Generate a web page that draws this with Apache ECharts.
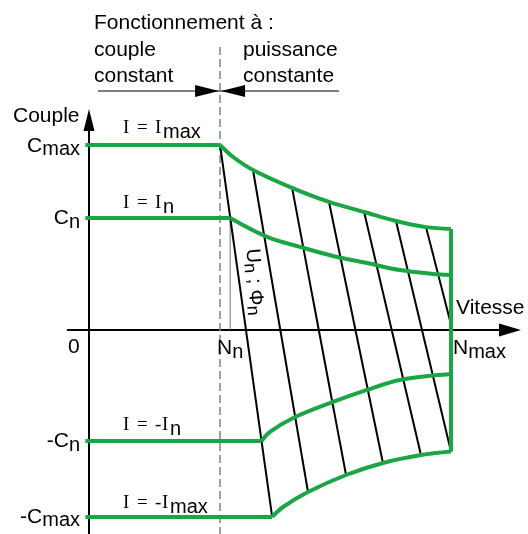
<!DOCTYPE html>
<html><head><meta charset="utf-8">
<script src="https://cdn.jsdelivr.net/npm/echarts@6/dist/echarts.min.js"></script>
<style>html,body{margin:0;padding:0;background:#fff}#c{width:528px;height:534px}</style>
</head><body><div id="c"></div>
<script>
// ---- data (speed N: Nmax = 100, torque C: Cmax = 100) ----
const Nn = 36.2;          // base speed (dashed line)
const NnCross = 39.0;     // Cn meets the Un;Phin line
const Nmax = 100;
const Cmax = 100, Cn = 60.5, mCn = -60, mCmax = -101.1;
const NmCn = 47.7, NmCmax = 50.6;

const cmaxCurve  = [[36.2,100],[39.8,93.5],[45.3,86.5],[56.1,76.8],[66.3,69.2],[76.0,63.8],[84.8,58.9],[93.1,55.6],[100,54.6]];
const cnCurve    = [[39.0,60.5],[49.2,50.3],[58.3,44.9],[67.4,40.0],[76.8,36.2],[85.9,32.4],[95.0,30.3],[100,29.7]];
const mCnCurve   = [[47.7,-60],[50.0,-55.1],[56.4,-47.6],[67.4,-38.9],[76.8,-32.4],[85.9,-27.0],[100,-23.8]];
const mCmaxCurve = [[50.6,-101.1],[53.6,-95.7],[60.5,-87.6],[71.0,-78.4],[81.2,-71.9],[91.7,-67.6],[100,-65.7]];
const hatchLines = [
  [[36.2,100],[50.6,-101.1]],
  [[45.3,86.5],[60.5,-87.6]],
  [[56.1,76.8],[71.0,-78.4]],
  [[66.3,69.2],[81.2,-71.9]],
  [[76.0,63.8],[91.7,-67.6]],
  [[84.8,58.9],[100,-65.7]],
  [[93.1,55.6],[100,3]]
];
const flatLines = [
  [[-1,Cmax],[Nn,Cmax]],
  [[-1,Cn],[NnCross,Cn]],
  [[-1,mCn],[NmCn,mCn]],
  [[-1,mCmax],[NmCmax,mCmax]]
];
const rightEdge = [[Nmax,54.6],[Nmax,-65.7]];

// ---- layout ----
const X0=89, Y0=330, KX=3.62, KY=1.85;
const xMin=-5.9, xMax=116.3, yMin=-110.3, yMax=113.5;
const GREEN='#1aa644';
const SANS='"Liberation Sans", Arial, Helvetica, sans-serif';
const SERIF='"Liberation Serif", "Times New Roman", serif';

const chart = echarts.init(document.getElementById('c'));
const base = {type:'line', symbol:'none', silent:true, animation:false, clip:false};
const series = [];
hatchLines.forEach(d=>series.push(Object.assign({}, base, {data:d, z:3, lineStyle:{color:'#000', width:2}})));
flatLines.forEach(d=>series.push(Object.assign({}, base, {data:d, z:5, lineStyle:{color:GREEN, width:4, cap:'butt'}})));
[cmaxCurve, cnCurve, mCnCurve, mCmaxCurve].forEach(d=>series.push(Object.assign({}, base, {data:d, smooth:0.35, z:5, lineStyle:{color:GREEN, width:4}})));
series.push(Object.assign({}, base, {data:rightEdge, z:5, lineStyle:{color:GREEN, width:4}}));
series.push(Object.assign({}, base, {data:[[NnCross,0],[NnCross,Cn]], z:2, lineStyle:{color:'#777', width:1}}));

const axisCommon = {type:'value', axisTick:{show:false}, axisLabel:{show:false}, splitLine:{show:false}};
chart.setOption({
  animation:false,
  grid:{left:X0+xMin*KX, width:(xMax-xMin)*KX, top:Y0-yMax*KY, height:(yMax-yMin)*KY, containLabel:false},
  xAxis:Object.assign({min:xMin, max:xMax, axisLine:{onZero:true, symbol:['none','triangle'], symbolSize:[13,22], lineStyle:{color:'#000', width:2}}}, axisCommon),
  yAxis:Object.assign({min:yMin, max:yMax, axisLine:{onZero:true, symbol:['none','triangle'], symbolSize:[11,22], lineStyle:{color:'#000', width:2}}}, axisCommon),
  series
});

// ---- annotations ----
const cv = document.createElement('canvas').getContext('2d');
function W(s,size,fam){cv.font=size+'px '+fam; return cv.measureText(s).width;}
function T(x, baseLine, s, size, fam){
  return {type:'text', x:x, y:baseLine-0.3465*size, silent:true, z:100,
    style:{text:s, font:size+'px '+fam, fill:'#000', verticalAlign:'middle', align:'left'}};
}
function P(n,c){return chart.convertToPixel({gridIndex:0},[n,c]);}
function subLabel(x, b, main, sub, alignRight){
  const wm=W(main,21,SANS), ws=W(sub,20,SANS);
  const x0 = alignRight ? x-(wm+ws) : x;
  return [T(x0,b,main,21,SANS), T(x0+wm,b+3.5,sub,20,SANS)];
}
function iLabel(x, b, neg, sub){
  const els=[T(x,b,'I',19,SERIF), T(x+14,b,'=',19,SERIF)];
  let xi = x+32;
  if(neg){ els.push(T(xi,b,'-',19,SERIF)); xi += 7; }
  els.push(T(xi,b,'I',19,SERIF));
  els.push(T(xi+8,b+4,sub,20,SANS));
  return els;
}
const g=[];
const o=P(0,0), pNn=P(Nn,0), pNmax=P(Nmax,0);
const yCmax=P(0,Cmax)[1], yCn=P(0,Cn)[1], ymCn=P(0,mCn)[1], ymCmax=P(0,mCmax)[1];

// dashed separation line
g.push({type:'line', silent:true, z:1, shape:{x1:pNn[0], y1:47, x2:pNn[0], y2:534},
  style:{stroke:'#808080', lineWidth:1.5, lineDash:[8,4]}});
// top arrows
g.push({type:'line', silent:true, shape:{x1:98, y1:91, x2:339, y2:91}, style:{stroke:'#000', lineWidth:1}});
g.push({type:'polygon', silent:true, shape:{points:[[pNn[0]-25,85],[pNn[0]-1,91],[pNn[0]-25,97]]}, style:{fill:'#000'}});
g.push({type:'polygon', silent:true, shape:{points:[[pNn[0]+25,85],[pNn[0]+1,91],[pNn[0]+25,97]]}, style:{fill:'#000'}});

g.push(T(94,30,'Fonctionnement à :',21,SANS));
g.push(T(94,57,'couple',21,SANS));
g.push(T(94,83,'constant',21,SANS));
g.push(T(243,57,'puissance',21,SANS));
g.push(T(243,83,'constante',21,SANS));
g.push(T(13,123,'Couple',21,SANS));

const rx = o[0]-9;
g.push(...subLabel(rx, yCmax+8, 'C','max', true));
g.push(...subLabel(rx, yCn+7.5, 'C','n', true));
g.push(...subLabel(rx, ymCn+8, '-C','n', true));
g.push(...subLabel(rx, ymCmax+7, '-C','max', true));
g.push(T(o[0]-21, o[1]+25, '0', 21, SANS));
g.push(...subLabel(pNn[0]-3, o[1]+26, 'N','n', false));
g.push(...subLabel(pNmax[0]+2, o[1]+26, 'N','max', false));
g.push(T(pNmax[0]+5, o[1]-14, 'Vitesse', 21, SANS));

const ix = o[0]+34;
g.push(...iLabel(ix, yCmax-10, false, 'max'));
g.push(...iLabel(ix, yCn-8, false, 'n'));
g.push(...iLabel(ix, ymCn-9, true, 'n'));
g.push(...iLabel(ix, ymCmax-7, true, 'max'));

// rotated Un ; Phi n
(function(){
  const fs=20, ss=18;
  const parts=[['U',0,fs],['n',3,ss],[' ; Φ',0,fs],['n',3,ss]];
  let cx=0; const ch=[];
  parts.forEach(p=>{
    ch.push({type:'text', x:cx, y:p[1]-0.3465*p[2], silent:true,
      style:{text:p[0], font:p[2]+'px '+SANS, fill:'#000', verticalAlign:'middle', align:'left'}});
    cx+=W(p[0],p[2],SANS);
  });
  g.push({type:'group', x:245, y:249, rotation:-86*Math.PI/180, children:ch, z:100});
})();

chart.setOption({graphic:{elements:g}});
</script>
</body></html>
